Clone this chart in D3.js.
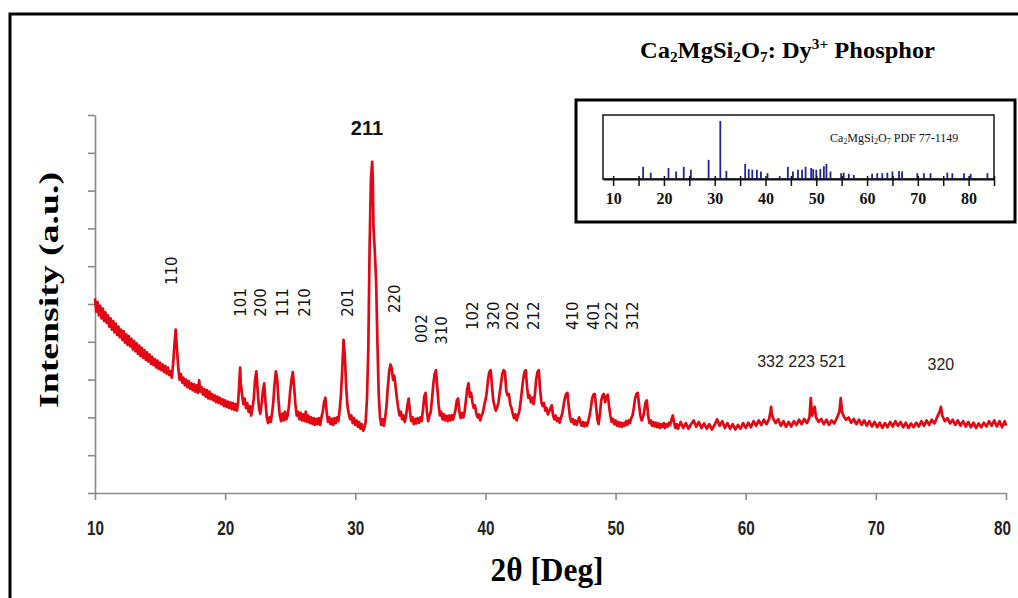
<!DOCTYPE html>
<html>
<head>
<meta charset="utf-8">
<script src="https://cdn.jsdelivr.net/npm/d3@7"></script>
<style>
  body { margin: 0; background: #fff; }
  svg { display: block; }
</style>
</head>
<body>
<div id="body"></div>
<script>
// XRD pattern: [2theta (deg), intensity (a.u.)]
var pattern = [
  [10.0,515],[10.1,480],[10.2,505],[10.3,470],[10.4,495],[10.5,462],[10.6,488],[10.7,455],[10.8,478],[10.9,450],
  [11.0,470],[11.1,440],[11.2,462],[11.3,432],[11.4,455],[11.5,425],[11.6,448],[11.7,418],[11.8,440],[11.9,412],
  [12.0,432],[12.1,405],[12.2,428],[12.3,398],[12.4,420],[12.5,392],[12.6,415],[12.7,388],[12.8,408],[12.9,380],
  [13.0,402],[13.1,375],[13.2,396],[13.3,368],[13.4,390],[13.5,362],[13.6,384],[13.7,358],[13.8,378],[13.9,352],
  [14.0,372],[14.1,348],[14.2,366],[14.3,342],[14.4,360],[14.5,338],[14.6,354],[14.7,332],[14.8,350],[14.9,328],
  [15.0,345],[15.1,325],[15.2,340],[15.3,320],[15.4,336],[15.5,316],[15.6,332],[15.7,312],[15.8,322],[15.9,305],
  [16.0,340],[16.1,390],[16.2,432],[16.3,380],[16.4,330],[16.5,300],[16.6,315],[16.7,292],[16.8,305],[16.9,285],
  [17.0,300],[17.1,280],[17.2,296],[17.3,276],[17.4,290],[17.5,272],[17.6,288],[17.7,268],[17.8,285],[17.9,265],
  [18.0,298],[18.1,268],[18.2,280],[18.3,260],[18.4,275],[18.5,255],[18.6,272],[18.7,250],[18.8,268],[18.9,248],
  [19.0,262],[19.1,245],[19.2,258],[19.3,240],[19.4,255],[19.5,238],[19.6,252],[19.7,235],[19.8,248],[19.9,230],
  [20.0,245],[20.1,228],[20.2,242],[20.3,225],[20.4,240],[20.5,222],[20.6,238],[20.7,220],[20.8,235],[20.9,218],
  [21.0,240],[21.1,300],[21.15,332],[21.2,290],[21.3,260],[21.4,235],[21.5,250],[21.6,225],[21.7,238],[21.8,215],
  [21.9,230],[22.0,205],[22.1,225],[22.2,250],[22.3,300],[22.4,322],[22.5,270],[22.6,225],[22.7,210],[22.8,235],
  [22.9,270],[23.0,290],[23.1,240],[23.2,200],[23.3,185],[23.4,200],[23.5,188],[23.6,210],[23.7,240],[23.8,290],
  [23.9,322],[24.0,300],[24.1,245],[24.2,205],[24.3,190],[24.4,210],[24.5,192],[24.6,215],[24.7,195],[24.8,205],
  [24.9,230],[25.0,270],[25.1,300],[25.2,320],[25.3,280],[25.4,235],[25.5,205],[25.6,215],[25.7,195],[25.8,212],
  [25.9,192],[26.0,208],[26.1,190],[26.2,215],[26.3,188],[26.4,205],[26.5,185],[26.6,200],[26.7,183],[26.8,198],
  [26.9,180],[27.0,196],[27.1,182],[27.2,198],[27.3,180],[27.4,200],[27.5,215],[27.6,240],[27.7,252],[27.8,215],
  [27.9,188],[28.0,200],[28.1,182],[28.2,196],[28.3,180],[28.4,198],[28.5,185],[28.6,200],[28.7,190],[28.8,220],
  [28.9,260],[29.0,330],[29.1,405],[29.2,360],[29.3,280],[29.4,230],[29.5,210],[29.6,195],[29.7,205],[29.8,185],
  [29.9,198],[30.0,180],[30.1,192],[30.2,175],[30.3,188],[30.4,170],[30.5,182],[30.6,165],[30.7,172],[30.8,190],
  [30.9,250],[31.0,380],[31.1,650],[31.2,830],[31.3,876],[31.35,820],[31.4,700],[31.5,640],[31.6,560],[31.7,400],
  [31.8,260],[31.9,200],[32.0,180],[32.1,195],[32.2,178],[32.3,200],[32.4,230],[32.5,280],[32.6,320],[32.7,340],
  [32.8,330],[32.9,300],[33.0,310],[33.1,280],[33.2,250],[33.3,225],[33.4,205],[33.5,215],[33.6,195],[33.7,205],
  [33.8,188],[33.9,205],[34.0,230],[34.1,250],[34.2,215],[34.3,190],[34.4,200],[34.5,182],[34.6,196],[34.7,184],
  [34.8,198],[34.9,186],[35.0,200],[35.1,190],[35.2,220],[35.3,255],[35.4,265],[35.5,215],[35.6,190],[35.7,205],
  [35.8,215],[35.9,250],[36.0,290],[36.1,315],[36.2,325],[36.3,280],[36.4,235],[36.5,205],[36.6,215],[36.7,195],
  [36.8,208],[36.9,192],[37.0,204],[37.1,190],[37.2,205],[37.3,192],[37.4,206],[37.5,194],[37.6,205],[37.7,220],
  [37.8,245],[37.9,250],[38.0,215],[38.1,198],[38.2,212],[38.3,200],[38.4,215],[38.5,245],[38.6,275],[38.7,290],
  [38.8,255],[38.9,265],[39.0,240],[39.1,225],[39.2,232],[39.3,210],[39.4,200],[39.5,208],[39.6,192],[39.7,205],
  [39.8,212],[39.9,230],[40.0,245],[40.1,265],[40.2,300],[40.3,320],[40.4,325],[40.5,285],[40.6,245],[40.7,230],
  [40.8,218],[40.9,226],[41.0,240],[41.1,265],[41.2,290],[41.3,315],[41.4,325],[41.5,320],[41.6,270],[41.7,258],
  [41.8,262],[41.9,235],[42.0,225],[42.1,210],[42.2,198],[42.3,208],[42.4,192],[42.5,205],[42.6,215],[42.7,240],
  [42.8,270],[42.9,300],[43.0,320],[43.1,325],[43.2,280],[43.3,252],[43.4,258],[43.5,240],[43.6,252],[43.7,235],
  [43.8,260],[43.9,300],[44.0,320],[44.1,325],[44.2,275],[44.3,240],[44.4,230],[44.5,238],[44.6,218],[44.7,225],
  [44.8,208],[44.9,215],[45.0,225],[45.1,232],[45.2,205],[45.3,195],[45.4,205],[45.5,190],[45.6,198],[45.7,186],
  [45.8,198],[45.9,210],[46.0,230],[46.1,250],[46.2,262],[46.3,265],[46.4,230],[46.5,200],[46.6,188],[46.7,196],
  [46.8,182],[46.9,192],[47.0,180],[47.1,190],[47.2,200],[47.3,186],[47.4,178],[47.5,188],[47.6,176],[47.7,186],
  [47.8,178],[47.9,190],[48.0,205],[48.1,225],[48.2,250],[48.3,260],[48.4,262],[48.5,230],[48.6,195],[48.7,182],
  [48.8,210],[48.9,245],[49.0,258],[49.1,262],[49.2,240],[49.3,255],[49.4,260],[49.5,230],[49.6,205],[49.7,188],
  [49.8,196],[49.9,182],[50.0,192],[50.1,178],[50.2,188],[50.3,176],[50.4,186],[50.5,175],[50.6,185],[50.7,178],
  [50.8,190],[50.9,180],[51.0,192],[51.1,185],[51.2,198],[51.3,205],[51.4,225],[51.5,250],[51.6,262],[51.7,265],
  [51.8,235],[51.9,205],[52.0,192],[52.1,200],[52.2,215],[52.3,240],[52.4,245],[52.5,205],[52.6,185],[52.7,192],
  [52.8,178],[52.9,188],[53.0,176],[53.1,186],[53.2,174],[53.3,184],[53.4,172],[53.5,182],[53.6,175],[53.7,185],
  [53.8,172],[53.9,182],[54.0,176],[54.1,186],[54.2,180],[54.3,195],[54.4,205],[54.5,185],[54.6,172],[54.7,182],
  [54.8,170],[54.9,180],[55.0,188],[55.2,172],[55.4,185],[55.6,170],[55.8,182],[56.0,192],[56.2,175],[56.4,188],
  [56.6,172],[56.8,184],[57.0,170],[57.2,182],[57.4,168],[57.6,180],[57.8,195],[58.0,178],[58.2,190],[58.4,172],
  [58.6,185],[58.8,170],[59.0,182],[59.2,168],[59.4,180],[59.6,170],[59.8,185],[60.0,172],[60.2,186],[60.4,174],
  [60.6,190],[60.8,178],[61.0,192],[61.2,180],[61.4,194],[61.6,182],[61.8,196],[61.9,215],[61.95,228],[62.0,210],
  [62.1,198],[62.3,185],[62.5,195],[62.7,178],[62.9,190],[63.1,175],[63.3,188],[63.5,176],[63.7,190],[63.9,180],
  [64.1,194],[64.3,182],[64.5,196],[64.7,185],[64.9,200],[65.0,251],[65.1,205],[65.2,215],[65.3,228],[65.4,200],
  [65.6,188],[65.8,196],[66.0,182],[66.2,194],[66.4,180],[66.6,192],[66.8,184],[67.0,198],[67.2,215],[67.3,251],
  [67.4,215],[67.5,205],[67.7,194],[67.9,200],[68.1,186],[68.3,196],[68.5,182],[68.7,194],[68.9,180],[69.1,192],
  [69.3,178],[69.5,190],[69.7,176],[69.9,188],[70.1,174],[70.3,186],[70.5,172],[70.7,185],[70.9,174],[71.1,188],
  [71.3,176],[71.5,190],[71.7,178],[71.9,188],[72.1,174],[72.3,186],[72.5,172],[72.7,184],[72.9,174],[73.1,186],
  [73.3,176],[73.5,190],[73.7,178],[73.9,192],[74.1,180],[74.3,194],[74.5,184],[74.7,200],[74.9,215],[75.0,228],
  [75.1,205],[75.3,190],[75.5,198],[75.7,184],[75.9,194],[76.1,180],[76.3,192],[76.5,178],[76.7,190],[76.9,176],
  [77.1,188],[77.3,174],[77.5,186],[77.7,172],[77.9,184],[78.1,174],[78.3,186],[78.5,176],[78.7,190],[78.9,178],
  [79.1,192],[79.3,176],[79.5,190],[79.7,174],[79.9,190],[80.0,178]
];

// Miller indices written above the peaks
var hklLabels = ["110","101","200","111","210","201","220","002","310","102","320","202","212","410","401","222","312"];
var hklPos    = [15.9,21.15,22.7,24.4,26.1,29.4,33.0,35.1,36.6,39.05,40.6,42.1,43.7,46.7,48.3,49.7,51.3];
var hklBase   = [550,466,466,466,466,466,476,397,392,431,431,431,431,431,431,431,431];

// reference card sticks (PDF 77-1149)
var refPos = [15.9,17.4,20.9,22.4,23.9,25.3,28.8,31.1,32.3,36.0,36.7,37.4,38.3,39.1,40.4,42.8,44.4,45.4,46.4,47.2,47.9,49.0,49.4,50.0,50.8,51.5,52.0,52.8,54.9,55.4,56.4,57.4,61.0,62.0,63.0,64.0,65.0,66.3,66.9,69.9,71.2,72.5,75.8,76.8,79.1,80.4,83.7];
var refInt = [21,11,19,13,21,16,33,100,14,26,17,16,16,13,10,5,21,13,16,16,21,19,17,16,17,22,26,13,10,11,9,7,9,10,10,11,13,14,13,10,10,10,11,10,10,9,10];

var xTicks = [10,20,30,40,50,60,70,80];
var insetTicks = [10,15,20,25,30,35,40,45,50,55,60,65,70,75,80,85];
var insetLabels = [10,20,30,40,50,60,70,80];

var svgWidth = 1018;
var svgHeight = 598;

var svg = d3.select("#body")
    .append("svg")
    .attr("width", svgWidth)
    .attr("height", svgHeight);

// outer frame
svg.append("rect")
    .attr("x", 10).attr("y", 14)
    .attr("width", 1030).attr("height", 620)
    .attr("fill", "none").attr("stroke", "#000").attr("stroke-width", 3);

var x = d3.scaleLinear().domain([10, 80]).range([95, 1006]);
var y = d3.scaleLinear().domain([0, 1000]).range([493, 115]);

var yAxis = d3.axisLeft(y)
    .tickValues(d3.range(0, 1001, 100))
    .tickFormat("")
    .tickSize(7)
    .tickSizeOuter(0);

var gy = svg.append("g")
    .attr("transform", "translate(95,0)")
    .call(yAxis);
gy.selectAll("path, line").attr("stroke", "#8a8a8a").attr("stroke-width", 1.6);

var xAxis = d3.axisBottom(x)
    .tickValues(xTicks)
    .tickFormat(d3.format("d"))
    .tickSize(7)
    .tickSizeOuter(0)
    .tickPadding(21);

var gx = svg.append("g")
    .attr("transform", "translate(0,493)")
    .call(xAxis);
gx.selectAll("path, line").attr("stroke", "#8a8a8a").attr("stroke-width", 1.6);
gx.selectAll("text")
    .attr("fill", "#222")
    .attr("textLength", 17)
    .attr("lengthAdjust", "spacingAndGlyphs")
    .style("font-family", "'Liberation Sans', sans-serif")
    .style("font-weight", "bold")
    .style("font-size", "20px");
// last label sits right at the frame edge, pull it in a touch
gx.selectAll("text").filter(function(d) { return d === 80; }).attr("x", -4);

// pattern
var line = d3.line()
    .x(function(d) { return x(d[0]); })
    .y(function(d) { return y(d[1]); });

svg.append("path")
    .datum(pattern)
    .attr("d", line)
    .attr("fill", "none")
    .attr("stroke", "#e30613")
    .attr("stroke-width", 2.7)
    .attr("stroke-linejoin", "round");

// hkl labels
svg.selectAll(".hkl")
    .data(hklLabels)
    .enter()
    .append("text")
    .attr("class", "hkl")
    .attr("transform", function(d, i) {
        return "translate(" + x(hklPos[i]) + "," + y(hklBase[i]) + ") rotate(-90)";
    })
    .attr("dy", "0.36em")
    .style("font-family", "'DejaVu Sans', sans-serif")
    .style("font-size", "15px")
    .attr("fill", "#111")
    .text(function(d) { return d; });

svg.append("text")
    .attr("x", x(30.9)).attr("y", y(947))
    .attr("text-anchor", "middle")
    .style("font-family", "'Liberation Sans', sans-serif")
    .style("font-weight", "bold")
    .style("font-size", "20px")
    .attr("fill", "#111")
    .text("211");

svg.append("text")
    .attr("x", x(64.3)).attr("y", y(333))
    .attr("text-anchor", "middle")
    .style("font-family", "'Liberation Sans', sans-serif")
    .style("font-size", "16px")
    .attr("fill", "#222")
    .text("332 223 521");

svg.append("text")
    .attr("x", x(75.0)).attr("y", y(325))
    .attr("text-anchor", "middle")
    .style("font-family", "'Liberation Sans', sans-serif")
    .style("font-size", "16px")
    .attr("fill", "#222")
    .text("320");

// axis titles
svg.append("text")
    .attr("transform", "translate(58,290) rotate(-90)")
    .attr("text-anchor", "middle")
    .style("font-family", "'Liberation Serif', serif")
    .style("font-weight", "bold")
    .style("font-size", "28px")
    .attr("textLength", 236)
    .attr("lengthAdjust", "spacingAndGlyphs")
    .text("Intensity (a.u.)");

svg.append("text")
    .attr("x", 547).attr("y", 581)
    .attr("text-anchor", "middle")
    .style("font-family", "'Liberation Serif', serif")
    .style("font-weight", "bold")
    .style("font-size", "33px")
    .attr("textLength", 113)
    .attr("lengthAdjust", "spacingAndGlyphs")
    .text("2θ [Deg]");

// title
var title = svg.append("text")
    .attr("x", 640).attr("y", 58)
    .style("font-family", "'Liberation Serif', serif")
    .style("font-weight", "bold")
    .style("font-size", "24px");
title.append("tspan").text("Ca");
title.append("tspan").attr("dy", 4).style("font-size", "15px").text("2");
title.append("tspan").attr("dy", -4).text("MgSi");
title.append("tspan").attr("dy", 4).style("font-size", "15px").text("2");
title.append("tspan").attr("dy", -4).text("O");
title.append("tspan").attr("dy", 4).style("font-size", "15px").text("7");
title.append("tspan").attr("dy", -4).text(": Dy");
title.append("tspan").attr("dy", -9).style("font-size", "15px").text("3+");
title.append("tspan").attr("dy", 9).text(" Phosphor");
title.attr("textLength", 295).attr("lengthAdjust", "spacingAndGlyphs");

// inset
svg.append("rect")
    .attr("x", 576).attr("y", 100)
    .attr("width", 439).attr("height", 122)
    .attr("fill", "#fff").attr("stroke", "#000").attr("stroke-width", 3);

var ix = d3.scaleLinear().domain([8, 85]).range([603, 994]);
var iy = d3.scaleLinear().domain([0, 100]).range([179, 121]);

svg.append("rect")
    .attr("x", 603).attr("y", 115)
    .attr("width", 391).attr("height", 64)
    .attr("fill", "none").attr("stroke", "#222").attr("stroke-width", 1.6);

svg.selectAll(".stick")
    .data(refPos)
    .enter()
    .append("line")
    .attr("class", "stick")
    .attr("x1", function(d) { return ix(d); })
    .attr("x2", function(d) { return ix(d); })
    .attr("y1", iy(0))
    .attr("y2", function(d, i) { return iy(refInt[i]); })
    .attr("stroke", "#23239a")
    .attr("stroke-width", 1.8);

var iAxis = d3.axisBottom(ix)
    .tickValues(insetTicks)
    .tickFormat(function(d) { return insetLabels.indexOf(d) >= 0 ? d : ""; })
    .tickSize(7)
    .tickSizeOuter(0)
    .tickPadding(7);

var gi = svg.append("g")
    .attr("transform", "translate(0,179)")
    .call(iAxis);
gi.select(".domain").attr("stroke", "#111").attr("stroke-width", 2);
gi.selectAll("line").attr("stroke", "#111").attr("stroke-width", 1.5).attr("y1", -3);
gi.selectAll("text")
    .attr("fill", "#111")
    .style("font-family", "'Liberation Serif', serif")
    .style("font-weight", "bold")
    .style("font-size", "16px");

var card = svg.append("text")
    .attr("x", 830).attr("y", 142)
    .style("font-family", "'Liberation Serif', serif")
    .style("font-size", "12px")
    .attr("fill", "#111");
card.append("tspan").text("Ca");
card.append("tspan").attr("dy", 2).style("font-size", "8px").text("2");
card.append("tspan").attr("dy", -2).text("MgSi");
card.append("tspan").attr("dy", 2).style("font-size", "8px").text("2");
card.append("tspan").attr("dy", -2).text("O");
card.append("tspan").attr("dy", 2).style("font-size", "8px").text("7");
card.append("tspan").attr("dy", -2).text(" PDF 77-1149");
</script>
</body>
</html>
